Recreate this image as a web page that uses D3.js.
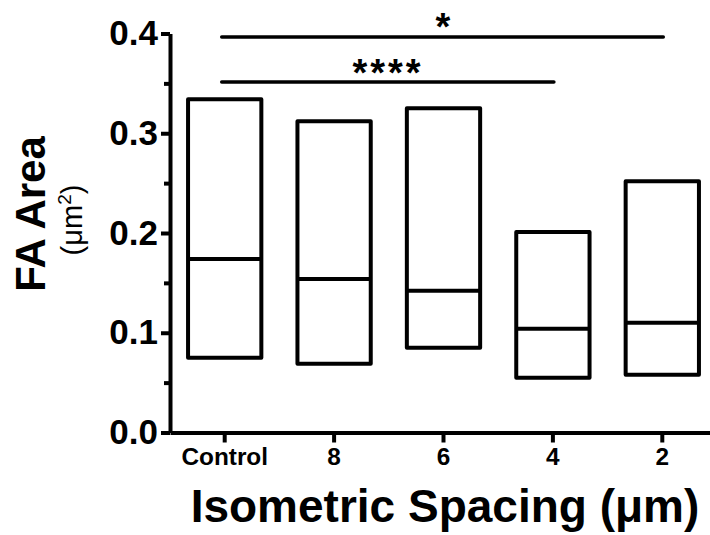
<!DOCTYPE html>
<html>
<head>
<meta charset="utf-8">
<script src="https://cdn.jsdelivr.net/npm/d3@7"></script>
<style>
body { margin: 0; background: #fff; }
svg { display: block; font-family: "Liberation Sans", Arial, sans-serif; }
</style>
</head>
<body>
<div id="chart"></div>
<script>
var width = 710, height = 535;

// floating bars: min to max with a line at the median
var groups = ['Control', '8', '6', '4', '2'];
var minVals = [0.075, 0.069, 0.085, 0.055, 0.058];
var medianVals = [0.174, 0.154, 0.142, 0.104, 0.110];
var maxVals = [0.334, 0.312, 0.325, 0.201, 0.252];
var yTicks = [0, 0.1, 0.2, 0.3, 0.4];
var yMinorTicks = [0.05, 0.15, 0.25, 0.35];
var sigPairs = [
    {from: 'Control', to: '2', label: '*'},
    {from: 'Control', to: '4', label: '****'}
];

var margin = {top: 33.5, left: 170, bottom: 102.5};

var x = d3.scaleBand()
    .domain(groups)
    .range([margin.left, 717])
    .paddingInner(0.33)
    .paddingOuter(0.165);

var y = d3.scaleLinear()
    .domain([0, 0.4])
    .range([height - margin.bottom, margin.top]);

var svg = d3.select('#chart')
    .append('svg')
    .attr('width', width)
    .attr('height', height);

var boxes = svg.selectAll('.box')
    .data(groups)
    .enter().append('g')
    .attr('class', 'box');

boxes.append('rect')
    .attr('x', function(d){ return x(d) })
    .attr('width', x.bandwidth())
    .attr('y', function(d, i){ return y(maxVals[i]) })
    .attr('height', function(d, i){ return y(minVals[i]) - y(maxVals[i]) })
    .attr('fill', 'none')
    .attr('stroke', '#000')
    .attr('stroke-width', 4)
    .attr('stroke-linejoin', 'round');

boxes.append('line')
    .attr('x1', function(d){ return x(d) })
    .attr('x2', function(d){ return x(d) + x.bandwidth() })
    .attr('y1', function(d, i){ return y(medianVals[i]) })
    .attr('y2', function(d, i){ return y(medianVals[i]) })
    .attr('stroke', '#000')
    .attr('stroke-width', 4);

// y axis, major + minor ticks
var yAxis = svg.append('g')
    .attr('transform', 'translate(' + margin.left + ',0)')
    .call(d3.axisLeft(y).tickValues(yTicks).tickFormat(d3.format('.1f')).tickSize(9).tickSizeOuter(0).tickPadding(3));

svg.append('g')
    .attr('transform', 'translate(' + margin.left + ',0)')
    .call(d3.axisLeft(y).tickValues(yMinorTicks).tickFormat('').tickSize(6).tickSizeOuter(0))
    .select('.domain').remove();

var xAxis = svg.append('g')
    .attr('transform', 'translate(0,' + y(0) + ')')
    .call(d3.axisBottom(x).tickSize(10).tickSizeOuter(0).tickPadding(6));

svg.selectAll('.tick line, .domain')
    .attr('stroke', '#000')
    .attr('stroke-width', 4);

yAxis.selectAll('text')
    .attr('font-size', 35)
    .attr('font-weight', 'bold')
    .attr('fill', '#000');

xAxis.selectAll('text')
    .attr('font-size', 23)
    .attr('font-weight', 'bold')
    .attr('fill', '#000')
    .attr('transform', 'scale(1.06,1)');

// significance bars
var sigY = [37, 82];
sigPairs.forEach(function(p, i){
    var x1 = x(p.from) + x.bandwidth() / 2 - 3;
    var x2 = x(p.to) + x.bandwidth() / 2 + 1;
    svg.append('line')
        .attr('x1', x1).attr('x2', x2)
        .attr('y1', sigY[i]).attr('y2', sigY[i])
        .attr('stroke', '#000')
        .attr('stroke-width', 3.5)
        .attr('stroke-linecap', 'round');
});

svg.append('text')
    .attr('x', 443)
    .attr('y', 40)
    .attr('text-anchor', 'middle')
    .attr('font-size', 38)
    .attr('font-weight', 'bold')
    .text(sigPairs[0].label);

svg.append('text')
    .attr('x', 388)
    .attr('y', 86)
    .attr('text-anchor', 'middle')
    .attr('font-size', 38)
    .attr('font-weight', 'bold')
    .attr('letter-spacing', 3)
    .text(sigPairs[1].label);

// axis titles
svg.append('text')
    .attr('transform', 'translate(45,214) rotate(-90)')
    .attr('text-anchor', 'middle')
    .attr('font-size', 42)
    .attr('font-weight', 'bold')
    .text('FA Area');

var unit = svg.append('text')
    .attr('transform', 'translate(82,220) rotate(-90)')
    .attr('text-anchor', 'middle')
    .attr('font-size', 29);
unit.append('tspan').text('(μm');
unit.append('tspan').attr('font-size', 19).attr('dy', -11).text('2');
unit.append('tspan').attr('dy', 11).text(')');

svg.append('text')
    .attr('x', 445)
    .attr('y', 522)
    .attr('text-anchor', 'middle')
    .attr('font-size', 46)
    .attr('font-weight', 'bold')
    .text('Isometric Spacing (μm)');
</script>
</body>
</html>
